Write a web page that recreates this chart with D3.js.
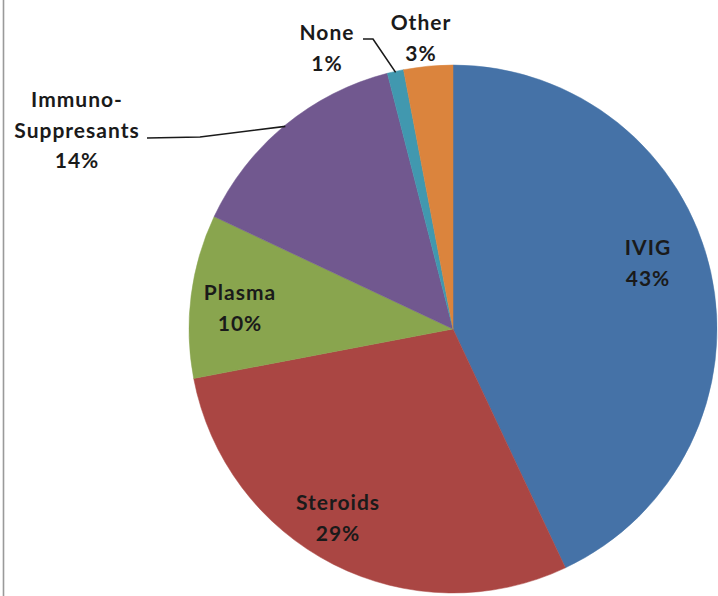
<!DOCTYPE html>
<html>
<head>
<meta charset="utf-8">
<script src="https://cdn.jsdelivr.net/npm/d3@7"></script>
<style>
  html, body { margin: 0; padding: 0; background: #fff; }
  svg { display: block; }
</style>
</head>
<body>
<svg id="chart" width="718" height="596"></svg>
<script>
// Treatment categories and their share of patients (%)
const categories = ["IVIG", "Steroids", "Plasma", "Immuno-Suppresants", "None", "Other"];
const values = [43, 29, 10, 14, 1, 3];
const labelLines = [["IVIG"], ["Steroids"], ["Plasma"], ["Immuno-", "Suppresants"], ["None"], ["Other"]];
const colors = ["#4572A7", "#AA4643", "#89A54E", "#71588F", "#4198AF", "#DB843D"];

const width = 718, height = 596;
const cx = 453, cy = 329, radius = 264;

// Label block anchors (centre x, first baseline) and leader lines for the outside labels
const labelLayout = {
  "IVIG": { x: 648, y: 255 },
  "Steroids": { x: 338, y: 510 },
  "Plasma": { x: 240, y: 300 },
  "Immuno-Suppresants": { x: 77, y: 107, leader: [[147, 138], [200, 137]] },
  "None": { x: 327, y: 40, leader: [[363, 39], [373, 39]] },
  "Other": { x: 421, y: 30 }
};
const lineHeight = 30.5;

const svg = d3.select("#chart");

// Chart area border on the left
svg.append("line")
  .attr("x1", 3.5).attr("x2", 3.5)
  .attr("y1", 0).attr("y2", height)
  .attr("stroke", "#9a9a9a").attr("stroke-width", 1.6);

const data = categories.map((c, i) => ({ category: c, value: values[i], lines: labelLines[i], color: colors[i] }));

const pie = d3.pie().sort(null).value(d => d.value);
const arc = d3.arc().innerRadius(0).outerRadius(radius);
const arcs = pie(data);

const g = svg.append("g").attr("transform", `translate(${cx},${cy})`);

g.selectAll("path.slice")
  .data(arcs)
  .join("path")
  .attr("class", "slice")
  .attr("d", arc)
  .attr("fill", d => d.data.color)
  .attr("stroke", d => d.data.color)
  .attr("stroke-width", 0.5);

// Leader lines: from the label to the outer edge at the slice mid-angle
const edge = d3.arc().innerRadius(radius - 1).outerRadius(radius - 1);
arcs.forEach(a => {
  const lay = labelLayout[a.data.category];
  if (!lay.leader) return;
  const [ex, ey] = edge.centroid(a);
  const pts = lay.leader.concat([[ex + cx, ey + cy]]);
  svg.append("path")
    .attr("d", d3.line()(pts))
    .attr("fill", "none")
    .attr("stroke", "#1a1a1a")
    .attr("stroke-width", 1.6);
});

// Category name plus percentage
const labels = svg.selectAll("text.label")
  .data(arcs)
  .join("text")
  .attr("class", "label")
  .attr("text-anchor", "middle")
  .attr("font-family", "Lato, 'Noto Sans', sans-serif")
  .attr("font-weight", "bold")
  .attr("font-size", 21)
  .attr("letter-spacing", 1)
  .attr("fill", "#1a1a1a");

labels.each(function (a) {
  const lay = labelLayout[a.data.category];
  const lines = a.data.lines.concat([a.data.value + "%"]);
  d3.select(this).selectAll("tspan")
    .data(lines)
    .join("tspan")
    .attr("x", lay.x)
    .attr("y", (d, i) => lay.y + i * lineHeight)
    .text(d => d);
});
</script>
</body>
</html>
